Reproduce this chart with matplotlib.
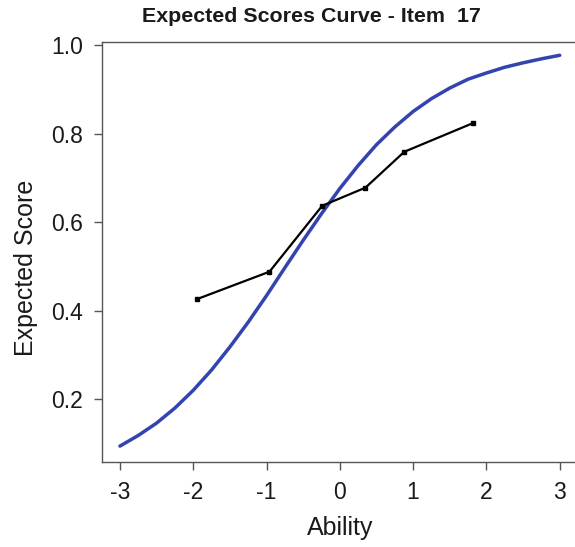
import matplotlib
matplotlib.use("Agg")
import matplotlib.pyplot as plt

plt.rcParams['font.family'] = ['Liberation Sans', 'DejaVu Sans']

# expected score curve (model)
ability_grid = [-3.0, -2.75, -2.5, -2.25, -2.0, -1.75, -1.5, -1.25, -1.0, -0.75, -0.5, -0.25,
                0.0, 0.25, 0.5, 0.75, 1.0, 1.25, 1.5, 1.75, 2.0, 2.25, 2.5, 2.75, 3.0]
expected = [0.094, 0.118, 0.146, 0.180, 0.220, 0.266, 0.318, 0.374, 0.434, 0.497, 0.559, 0.619,
            0.676, 0.728, 0.775, 0.815, 0.850, 0.879, 0.903, 0.923, 0.937, 0.950, 0.960, 0.969, 0.977]

# observed scores by ability group
obs_ability = [-1.95, -0.96, -0.24, 0.35, 0.88, 1.82]
obs_score = [0.426, 0.488, 0.637, 0.678, 0.759, 0.824]

xticks = [-3, -2, -1, 0, 1, 2, 3]
yticks = [0.2, 0.4, 0.6, 0.8, 1.0]

fig = plt.figure(figsize=(5.75, 5.47), dpi=100)
ax = fig.add_axes([0.178, 0.156, 0.826, 0.768])

ax.plot(ability_grid, expected, color='#3343b0', lw=2.5, solid_capstyle='round')
ax.plot(obs_ability, obs_score, color='black', lw=1.6, marker='s', markersize=3.5)

ax.set_xlim(-3.24, 3.24)
ax.set_ylim(0.0588, 1.008)
ax.set_xticks(xticks)
ax.set_xticklabels([str(t) for t in xticks])
ax.set_yticks(yticks)
ax.set_yticklabels([f"{t:.1f}" for t in yticks])

for s in ax.spines.values():
    s.set_color('#555555')
    s.set_linewidth(1.0)
ax.tick_params(direction='out', length=6, width=1.0, color='#555555',
               labelsize=16.5, labelcolor='#1a1a1a', pad=8)
ax.tick_params(axis='x', pad=8)

fig.text(340 / 575, 1 - 528 / 547, 'Ability', fontsize=18, color='#1a1a1a',
         ha='center', va='center')
fig.text(26 / 575, 1 - 268 / 547, 'Expected Score', rotation=90, fontsize=18,
         color='#1a1a1a', ha='center', va='center')
fig.text(311 / 575, 1 - 17 / 547, 'Expected Scores Curve - Item  17', fontsize=15.4,
         fontweight='bold', color='#1a1a1a', ha='center', va='center')

fig.savefig('out.png', dpi=100)
